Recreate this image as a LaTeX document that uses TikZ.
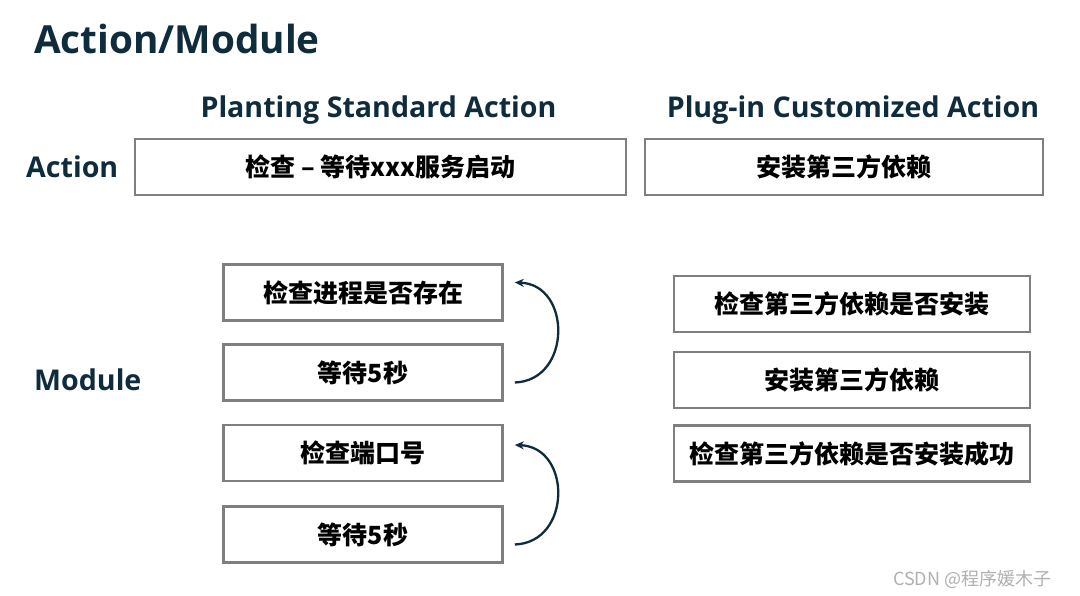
\documentclass[tikz,border=0pt]{standalone}
\usepackage{fontspec}
\setmainfont{Open Sans}
\newfontfamily\cjk{Noto Sans CJK SC}
\usetikzlibrary{arrows.meta}
\definecolor{navy}{HTML}{0F2C3C}
\definecolor{boxgray}{HTML}{7F7F7F}
\definecolor{wmgray}{HTML}{B0B0B0}
\tikzset{
  heading/.style={text=navy, font=\bfseries\fontsize{28.6}{32}\selectfont, inner sep=0pt},
  stepbox/.style={draw=boxgray, line width=2.6pt, fill=white, minimum height=56pt, inner sep=0pt,
     font=\cjk\bfseries\fontsize{25}{29}\selectfont, text=black},
  loopback/.style={draw=navy, line width=2.3pt, -{Stealth[length=9pt,width=8pt]}},
}
\begin{document}
\begin{tikzpicture}[x=1pt,y=-1pt]
\fill[white] (0,0) rectangle (1080,596);
\useasboundingbox (0,0) rectangle (1080,596);

\node[heading, anchor=base west, font=\bfseries\fontsize{38.7}{44}\selectfont] (title) at (34,54) {Action/Module};
\node[heading, anchor=base] (hstd) at (378.5,118) {Planting Standard Action};
\node[heading, anchor=base] (hplug) at (853,118) {Plug-in Customized Action};
\node[heading, anchor=base west] (lact) at (26,178) {Action};
\node[heading, anchor=base west] (lmod) at (34,390) {Module};

\node[stepbox, minimum width=491pt] (a1) at (380.5,167) {检查 – 等待xxx服务启动};
\node[stepbox, minimum width=398pt] (a2) at (844,167) {安装第三方依赖};

\node[stepbox, minimum width=279pt] (m1) at (363,292.5) {检查进程是否存在};
\node[stepbox, minimum width=279pt] (m2) at (363,372.5) {等待5秒};
\node[stepbox, minimum width=279pt] (m3) at (363,453) {检查端口号};
\node[stepbox, minimum width=279pt] (m4) at (363,534.5) {等待5秒};

\node[stepbox, minimum width=356pt] (r1) at (852,304) {检查第三方依赖是否安装};
\node[stepbox, minimum width=356pt] (r2) at (852,380) {安装第三方依赖};
\node[stepbox, minimum width=356pt] (r3) at (852,453.5) {检查第三方依赖是否安装成功};

\draw[loopback] ([shift={(11,10)}]m2.east) .. controls +(57,-2) and +(57,2) .. ([shift={(11,-10)}]m1.east);
\draw[loopback] ([shift={(11,10)}]m4.east) .. controls +(57,-2) and +(57,2) .. ([shift={(11,-8)}]m3.east);

\node[anchor=base west, text=wmgray, inner sep=0pt, font=\cjk\fontsize{18}{20}\selectfont] (wm) at (893,585) {CSDN @程序媛木子};
\end{tikzpicture}
\end{document}
